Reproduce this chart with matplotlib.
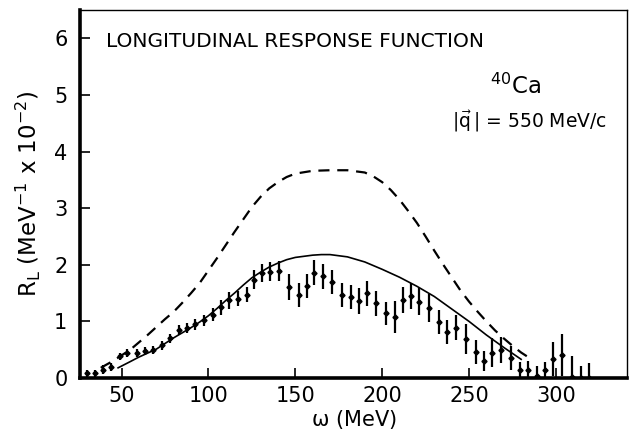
import matplotlib
matplotlib.use("Agg")
import matplotlib.pyplot as plt

plt.rcParams["font.family"] = ["DejaVu Sans"]
plt.rcParams["mathtext.default"] = "regular"

# measured data points: omega (MeV), R_L (x 1e-2 MeV^-1), error
omega_data = [29.9, 34.7, 39.5, 44.1, 49.0, 53.3, 58.6, 63.2, 68.2, 73.0,
              77.8, 83.0, 87.8, 92.5, 97.5, 102.7, 107.4, 112.0, 117.0, 122.0,
              126.2, 130.9, 135.6, 140.4, 146.6, 151.9, 156.7, 160.7, 165.9, 171.2,
              176.8, 182.0, 186.4, 191.2, 196.6, 202.3, 207.4, 211.9, 216.7, 221.4,
              227.2, 232.6, 237.6, 242.5, 248.2, 253.8, 258.8, 263.5, 268.4, 274.0,
              279.3, 284.1, 288.9, 293.7, 298.5, 303.6, 309.5, 314.2, 318.9]
r_data = [0.08, 0.08, 0.15, 0.19, 0.38, 0.44, 0.44, 0.47, 0.50, 0.58,
          0.70, 0.85, 0.88, 0.95, 1.02, 1.12, 1.25, 1.37, 1.40, 1.47,
          1.74, 1.85, 1.88, 1.89, 1.61, 1.47, 1.62, 1.86, 1.80, 1.70,
          1.46, 1.43, 1.36, 1.50, 1.32, 1.14, 1.08, 1.38, 1.45, 1.35,
          1.24, 0.99, 0.81, 0.89, 0.69, 0.46, 0.30, 0.45, 0.49, 0.35,
          0.14, 0.14, 0.03, 0.14, 0.33, 0.40, 0.02, 0.0, 0.0]
r_err = [0.06, 0.06, 0.08, 0.07, 0.07, 0.07, 0.07, 0.07, 0.07, 0.08,
         0.08, 0.09, 0.09, 0.10, 0.10, 0.12, 0.13, 0.15, 0.13, 0.13,
         0.16, 0.16, 0.17, 0.18, 0.23, 0.21, 0.21, 0.22, 0.22, 0.21,
         0.21, 0.21, 0.23, 0.22, 0.22, 0.21, 0.28, 0.23, 0.23, 0.24,
         0.25, 0.21, 0.21, 0.22, 0.26, 0.21, 0.18, 0.25, 0.23, 0.21,
         0.15, 0.16, 0.18, 0.15, 0.30, 0.37, 0.36, 0.22, 0.27]

# dashed curve
omega_dash = [38, 45, 50, 55, 60, 65, 70, 75, 80, 85, 90, 95, 100, 105, 110,
              115, 120, 125, 130, 135, 140, 145, 150, 160, 170, 180, 190, 195,
              200, 205, 210, 215, 220, 225, 230, 235, 240, 245, 250, 255, 260,
              265, 270, 275, 280, 285]
r_dash = [0.18, 0.30, 0.40, 0.50, 0.63, 0.76, 0.90, 1.04, 1.17, 1.33, 1.50,
          1.68, 1.90, 2.12, 2.35, 2.58, 2.80, 3.02, 3.20, 3.35, 3.46, 3.55,
          3.61, 3.66, 3.67, 3.67, 3.63, 3.56, 3.46, 3.32, 3.15, 2.95, 2.74,
          2.50, 2.25, 2.01, 1.78, 1.55, 1.35, 1.17, 1.00, 0.84, 0.70, 0.57,
          0.45, 0.35]

# solid curve
omega_solid = [48, 55, 60, 65, 70, 75, 80, 85, 90, 95, 100, 105, 110, 115, 120,
               125, 130, 135, 140, 145, 150, 160, 165, 170, 180, 190, 200, 210,
               220, 230, 240, 250, 260, 270, 280]
r_solid = [0.18, 0.29, 0.37, 0.44, 0.51, 0.61, 0.71, 0.80, 0.89, 0.99, 1.10,
           1.23, 1.37, 1.50, 1.64, 1.77, 1.87, 1.96, 2.03, 2.09, 2.13, 2.17,
           2.18, 2.18, 2.14, 2.05, 1.92, 1.78, 1.62, 1.44, 1.22, 1.00, 0.76,
           0.54, 0.33]

xticks = [50, 100, 150, 200, 250, 300]
yticks = [0, 1, 2, 3, 4, 5, 6]

fig = plt.figure(figsize=(6.29, 4.36), dpi=100)
ax = fig.add_axes([0.127, 0.133, 0.870, 0.844])

ax.plot(omega_dash, r_dash, color="black", linewidth=1.6, linestyle=(0, (5, 3.5)))
ax.plot(omega_solid, r_solid, color="black", linewidth=1.2)
ax.errorbar(omega_data, r_data, yerr=r_err, fmt="D", color="black",
            markersize=2.6, elinewidth=1.6, capsize=0)

ax.set_xlim(26, 341)
ax.set_ylim(0, 6.5)
ax.set_xticks(xticks)
ax.set_yticks(yticks)
ax.tick_params(direction="in", length=7, width=1.2, labelsize=15)
ax.tick_params(axis="y", pad=9)
ax.tick_params(axis="x", pad=6)

for side in ["left", "bottom"]:
    ax.spines[side].set_linewidth(2.6)
for side in ["top", "right"]:
    ax.spines[side].set_linewidth(1.0)

ax.set_xlabel(r"$\omega$ (MeV)", fontsize=15, labelpad=1)
ax.set_ylabel(r"$R_L$ (MeV$^{-1}$ x 10$^{-2}$)", fontsize=16.5, labelpad=8)

ax.text(40.8, 5.84, "LONGITUDINAL RESPONSE FUNCTION", fontsize=14.5, va="baseline")
ax.text(262, 5.02, r"$^{40}$Ca", fontsize=16.5, va="baseline")
ax.text(240, 4.42, r"$|\vec{q}\,|$ = 550 MeV/c", fontsize=13.5, va="baseline")

fig.savefig("out.png", dpi=100)
